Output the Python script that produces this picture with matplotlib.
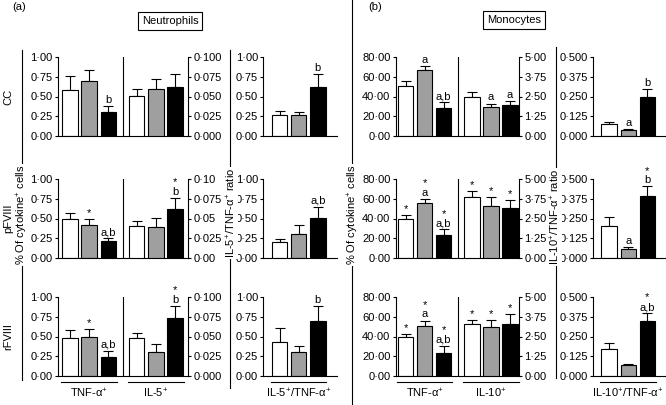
import numpy as np
import matplotlib
matplotlib.use('Agg')
import matplotlib.pyplot as plt
from matplotlib.lines import Line2D

plt.rcParams['font.family'] = ['Liberation Sans', 'DejaVu Sans']
plt.rcParams['mathtext.fontset'] = 'custom'
plt.rcParams['mathtext.rm'] = 'Liberation Sans'
plt.rcParams['mathtext.it'] = 'Liberation Sans:italic'
plt.rcParams['mathtext.bf'] = 'Liberation Sans:bold'

# stimulation rows and the three bar fills
rows = ['CC', 'pFVIII', 'rFVIII']
fills = ['white', '#9f9f9f', 'black']

# neutrophils
neut_tnf = [[0.58, 0.70, 0.31], [0.49, 0.42, 0.21], [0.485, 0.50, 0.24]]
neut_tnf_err = [[0.18, 0.13, 0.07], [0.085, 0.07, 0.04], [0.095, 0.09, 0.08]]
neut_tnf_let = [['', '', 'b'], ['', '', 'a,b'], ['', '', 'a,b']]
neut_tnf_star = [[0, 0, 0], [0, 1, 0], [0, 1, 0]]

neut_il5 = [[0.051, 0.0595, 0.0625], [0.041, 0.039, 0.062], [0.0485, 0.031, 0.074]]
neut_il5_err = [[0.009, 0.0125, 0.0155], [0.006, 0.012, 0.014], [0.0065, 0.009, 0.015]]
neut_il5_let = [['', '', ''], ['', '', 'b'], ['', '', 'b']]
neut_il5_star = [[0, 0, 0], [0, 0, 1], [0, 0, 1]]

neut_ratio = [[0.27, 0.26, 0.62], [0.20, 0.30, 0.51], [0.43, 0.30, 0.69]]
neut_ratio_err = [[0.05, 0.05, 0.16], [0.04, 0.12, 0.14], [0.175, 0.08, 0.19]]
neut_ratio_let = [['', '', 'b'], ['', '', 'a,b'], ['', '', 'b']]
neut_ratio_star = [[0, 0, 0], [0, 0, 0], [0, 0, 0]]

# monocytes
mono_tnf = [[50.8, 66.4, 28.1], [39.2, 56.2, 22.9], [39.2, 50.8, 23.5]]
mono_tnf_err = [[4.4, 4.1, 6.2], [4.4, 3.8, 6.1], [3.4, 5.4, 6.8]]
mono_tnf_let = [['', 'a', 'a,b'], ['', 'a', 'a,b'], ['', 'a', 'a,b']]
mono_tnf_star = [[0, 0, 0], [1, 1, 1], [1, 1, 1]]

mono_il10 = [[2.50, 1.84, 1.97], [3.86, 3.32, 3.19], [3.28, 3.07, 3.28]]
mono_il10_err = [[0.30, 0.21, 0.23], [0.40, 0.54, 0.49], [0.28, 0.49, 0.66]]
mono_il10_let = [['', 'a', 'a'], ['', '', ''], ['', '', '']]
mono_il10_star = [[0, 0, 0], [1, 1, 1], [1, 1, 1]]

mono_ratio = [[0.074, 0.038, 0.25], [0.202, 0.060, 0.394], [0.169, 0.068, 0.345]]
mono_ratio_err = [[0.015, 0.004, 0.047], [0.056, 0.010, 0.059], [0.038, 0.009, 0.053]]
mono_ratio_let = [['', 'a', 'b'], ['', 'a', 'b'], ['', '', 'a,b']]
mono_ratio_star = [[0, 0, 0], [0, 0, 1], [0, 0, 1]]

# tick labels
neut_left_ticks = ['0·00', '0·25', '0·50', '0·75', '1·00']
neut_il5_ticks = [['0·000', '0·025', '0·050', '0·075', '0·100'],
                  ['0·00', '0·025', '0·05', '0·075', '0·10'],
                  ['0·000', '0·025', '0·050', '0·075', '0·100']]
mono_left_ticks = ['0·00', '20·00', '40·00', '60·00', '80·00']
mono_il10_ticks = ['0·00', '1·25', '2·50', '3·75', '5·00']
mono_ratio_ticks = ['0·000', '0·125', '0·250', '0·375', '0·500']

W, H = 666, 405
fig = plt.figure(figsize=(6.66, 4.05), dpi=100)
row_tops = [57, 179, 297]
AX_H = 79
FS = 8


def px_axes(x0, x1, ytop):
    return fig.add_axes([x0 / W, 1 - (ytop + AX_H) / H, (x1 - x0) / W, AX_H / H])


def style(ax, side, pad=1.5):
    for s in ['top', 'left', 'right', 'bottom']:
        ax.spines[s].set_visible(False)
    ax.spines[side].set_visible(True)
    ax.spines[side].set_linewidth(0.8)
    ax.tick_params(axis='y', direction='out', length=2.5, width=0.8, pad=pad,
                   labelsize=FS, left=(side == 'left'), labelleft=(side == 'left'),
                   right=(side == 'right'), labelright=(side == 'right'))
    ax.set_xticks([])


def bars(ax, pos, means, errs, lets, stars):
    ax.bar(pos, means, width=0.8, color=fills, edgecolor='k', linewidth=0.8, zorder=2)
    ax.errorbar(pos, means, yerr=[np.zeros(3), errs], fmt='none', ecolor='k',
                elinewidth=0.8, capsize=3.5, capthick=0.8, zorder=1)
    for x, m, e, let, st in zip(pos, means, errs, lets, stars):
        parts = []
        if st:
            parts.append('*')
        if let:
            parts.append(let)
        if parts:
            ax.annotate('\n'.join(parts), (x, m + e), xytext=(0, 0.8),
                        textcoords='offset points', ha='center', va='bottom',
                        multialignment='center', linespacing=0.95, fontsize=FS)


def group_label(ax, pos, name):
    tr = ax.get_xaxis_transform()
    ax.plot([pos[0] - 0.45, pos[2] + 0.45], [-0.076, -0.076], transform=tr,
            clip_on=False, color='k', lw=0.8)
    ax.text(np.mean(pos), -0.215, name, transform=tr, ha='center', va='center', fontsize=FS)


def fig_line(x, y0, y1):
    fig.add_artist(Line2D([x / W, x / W], [1 - y0 / H, 1 - y1 / H], color='k', lw=0.8))


def fig_vlabel(x, y, text):
    fig.text(x / W, 1 - y / H, text, rotation=90, ha='center', va='center', fontsize=FS,
             bbox=dict(fc='white', ec='none', pad=0.3))


pos_a = [0, 1, 2]
pos_b = [3.5, 4.5, 5.5]

panels = [
    dict(xl=(58, 188), xr=(263, 337), xlim=(-0.63, 6.18), rlim=(-0.87, 3.0),
         left=(neut_tnf, neut_tnf_err, neut_tnf_let, neut_tnf_star, 1.0, neut_left_ticks),
         right=(neut_il5, neut_il5_err, neut_il5_let, neut_il5_star, 0.1, neut_il5_ticks),
         ratio=(neut_ratio, neut_ratio_err, neut_ratio_let, neut_ratio_star, 1.0, neut_left_ticks),
         names=['TNF-α$^{+}$', 'IL-5$^{+}$', 'IL-5$^{+}$/TNF-α$^{+}$']),
    dict(xl=(396, 519), xr=(593, 666), xlim=(-0.5, 5.97), rlim=(-0.84, 2.98),
         left=(mono_tnf, mono_tnf_err, mono_tnf_let, mono_tnf_star, 80.0, mono_left_ticks),
         right=(mono_il10, mono_il10_err, mono_il10_let, mono_il10_star, 5.0,
                [mono_il10_ticks] * 3),
         ratio=(mono_ratio, mono_ratio_err, mono_ratio_let, mono_ratio_star, 0.5, mono_ratio_ticks),
         names=['TNF-α$^{+}$', 'IL-10$^{+}$', 'IL-10$^{+}$/TNF-α$^{+}$']),
]

for p in panels:
    for i, top in enumerate(row_tops):
        ax_l = px_axes(p['xl'][0], p['xl'][1], top)
        ax_r = ax_l.twinx()
        ax_q = px_axes(p['xr'][0], p['xr'][1], top)

        m, e, l, s, ymax, tk = p['left']
        bars(ax_l, pos_a, m[i], e[i], l[i], s[i])
        ax_l.set_ylim(0, ymax)
        ax_l.set_yticks(np.linspace(0, ymax, 5), tk)

        m, e, l, s, ymax, tk = p['right']
        bars(ax_r, pos_b, m[i], e[i], l[i], s[i])
        ax_r.set_ylim(0, ymax)
        ax_r.set_yticks(np.linspace(0, ymax, 5), tk[i])

        m, e, l, s, ymax, tk = p['ratio']
        bars(ax_q, pos_a, m[i], e[i], l[i], s[i])
        ax_q.set_ylim(0, ymax)
        ax_q.set_yticks(np.linspace(0, ymax, 5), tk)

        ax_l.set_xlim(*p['xlim'])
        ax_q.set_xlim(*p['rlim'])
        style(ax_l, 'left')
        style(ax_r, 'right')
        style(ax_q, 'left', pad=1.0)
        for ax in (ax_l, ax_q):
            ax.spines['bottom'].set_visible(True)
            ax.spines['bottom'].set_linewidth(0.8)
        ax_l.axvline(2.75, color='k', lw=0.8)

        if i == 2:
            group_label(ax_l, pos_a, p['names'][0])
            group_label(ax_l, pos_b, p['names'][1])
            group_label(ax_q, pos_a, p['names'][2])

# row names
for name, top in zip(rows, row_tops):
    fig.text(8 / W, 1 - (top + AX_H / 2) / H, name, rotation=90, ha='center',
             va='center', fontsize=FS)

# long axis-label lines
fig_line(22, 50, 380)
fig_vlabel(22, 215, '% Of cytokine$^{+}$ cells')
fig_line(230, 50, 388)
fig_vlabel(231, 213, 'IL-5$^{+}$/TNF-α$^{+}$ ratio')
fig_line(352, 0, 405)
fig_vlabel(353, 215, '% Of cytokine$^{+}$ cells')
fig_line(556, 47, 378)
fig_vlabel(555, 217, 'IL-10$^{+}$/TNF-α$^{+}$ ratio')

# panel headings
fig.text(19 / W, 1 - 7 / H, '(a)', ha='center', va='center', fontsize=FS)
fig.text(375 / W, 1 - 7 / H, '(b)', ha='center', va='center', fontsize=FS)
box = dict(boxstyle='square,pad=0.35', fc='white', ec='k', lw=0.8)
fig.text(170 / W, 1 - 21 / H, 'Neutrophils', ha='center', va='center', fontsize=FS, bbox=box)
fig.text(514 / W, 1 - 20 / H, 'Monocytes', ha='center', va='center', fontsize=FS, bbox=box)

fig.savefig('out.png', dpi=100)
